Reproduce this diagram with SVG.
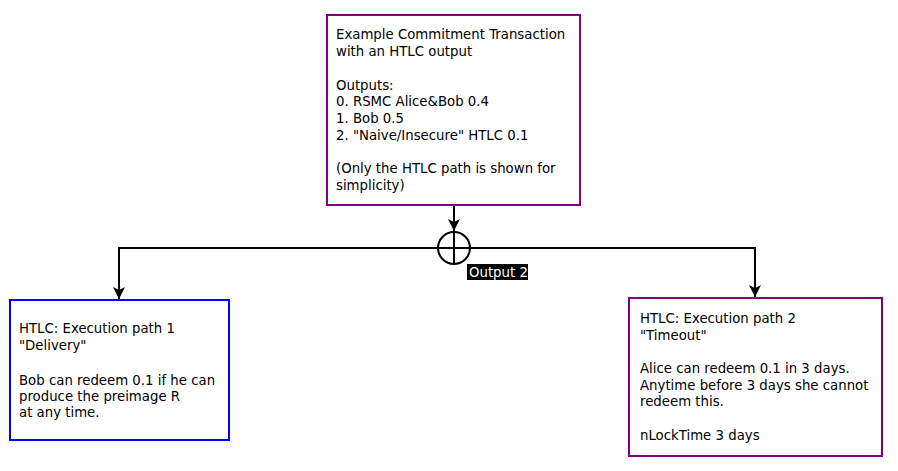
<svg xmlns="http://www.w3.org/2000/svg" width="898" height="471" viewBox="0 0 898 471">
<defs>
<style>
.box{fill:#fff;stroke-width:2}
.t{font-family:"DejaVu Sans",sans-serif;font-size:13.3px;fill:#000}
.c{fill:none;stroke:#000;stroke-width:2}
</style>
<marker id="arr" viewBox="0 0 12 12" refX="12" refY="6" markerWidth="12" markerHeight="12" markerUnits="userSpaceOnUse" orient="auto">
<path d="M0,0 L12,6 L0,12 L3,6 z" fill="#000"/>
</marker>
</defs>
<rect width="898" height="471" fill="#fff"/>
<g id="connectors">
<line class="c" x1="454" y1="206" x2="454" y2="231" marker-end="url(#arr)"/>
<circle class="c" cx="454" cy="248" r="16"/>
<line class="c" x1="454" y1="232" x2="454" y2="264"/>
<line class="c" x1="438" y1="248" x2="470" y2="248"/>
<polyline class="c" points="438,248 119,248 119,299" marker-end="url(#arr)"/>
<polyline class="c" points="470,248 755,248 755,297" marker-end="url(#arr)"/>
<rect x="467" y="264" width="61" height="16" fill="#000"/>
<text x="469" y="277" class="t" style="fill:#fff">Output 2</text>
</g>
<g id="commitment">
<rect class="box" x="327" y="15" width="253" height="190" stroke="#800080"/>
<text class="t" x="336" y="39">Example Commitment Transaction</text>
<text class="t" x="336" y="56">with an HTLC output</text>
<text class="t" x="336" y="90">Outputs:</text>
<text class="t" x="336" y="106">0. RSMC Alice&amp;Bob 0.4</text>
<text class="t" x="336" y="123">1. Bob 0.5</text>
<text class="t" x="336" y="140">2. "Naive/Insecure" HTLC 0.1</text>
<text class="t" x="336" y="173">(Only the HTLC path is shown for</text>
<text class="t" x="336" y="190">simplicity)</text>
</g>
<g id="path1">
<rect class="box" x="10" y="300" width="219" height="140" stroke="#0000ff"/>
<text class="t" x="19" y="333">HTLC: Execution path 1</text>
<text class="t" x="19" y="350">"Delivery"</text>
<text class="t" x="19" y="385">Bob can redeem 0.1 if he can</text>
<text class="t" x="19" y="401">produce the preimage R</text>
<text class="t" x="19" y="417">at any time.</text>
</g>
<g id="path2">
<rect class="box" x="629" y="298" width="253" height="158" stroke="#800080"/>
<text class="t" x="640" y="323">HTLC: Execution path 2</text>
<text class="t" x="640" y="340">"Timeout"</text>
<text class="t" x="640" y="373">Alice can redeem 0.1 in 3 days.</text>
<text class="t" x="640" y="390">Anytime before 3 days she cannot</text>
<text class="t" x="640" y="406">redeem this.</text>
<text class="t" x="640" y="440">nLockTime 3 days</text>
</g>
</svg>
